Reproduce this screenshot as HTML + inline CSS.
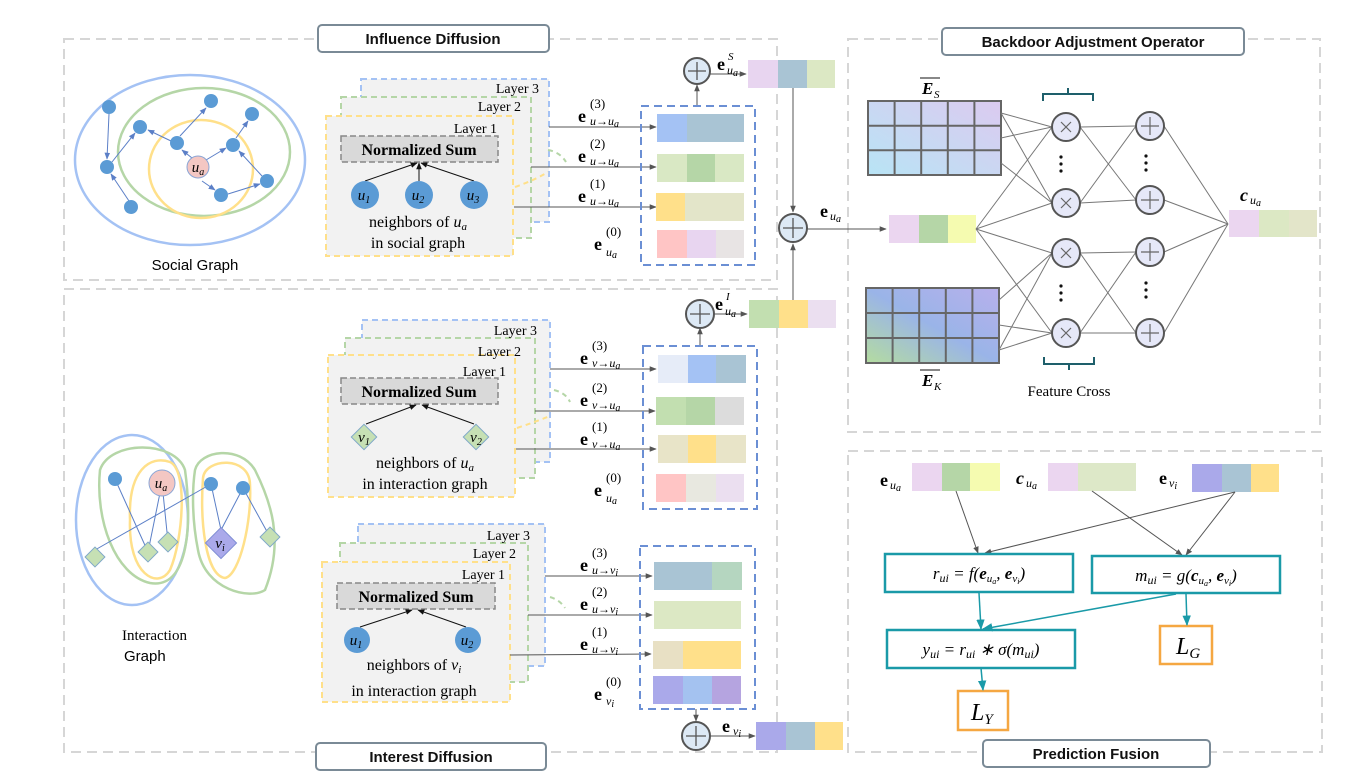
<!DOCTYPE html>
<html><head><meta charset="utf-8"><style>
html,body{margin:0;padding:0;background:#fff}
svg{display:block}
.t{font-family:"Liberation Serif",serif}
.s{font-family:"Liberation Sans",sans-serif}
.m{font-family:"Liberation Serif",serif;font-style:italic}
.b{font-weight:bold}
</style></head><body>
<svg width="1365" height="779" viewBox="0 0 1365 779" xmlns="http://www.w3.org/2000/svg">
<defs>
<marker id="a" viewBox="0 0 10 10" refX="9" refY="5" markerWidth="7" markerHeight="7" orient="auto"><path d="M0,1L10,5L0,9z" fill="#555"/></marker>
<marker id="at" viewBox="0 0 10 10" refX="9" refY="5" markerWidth="7" markerHeight="7" orient="auto"><path d="M0,1L10,5L0,9z" fill="#1a9aa8"/></marker>
<marker id="ab" viewBox="0 0 10 10" refX="9" refY="5" markerWidth="7" markerHeight="7" orient="auto"><path d="M0,1L10,5L0,9z" fill="#5b7fc7"/></marker>
<marker id="ak" viewBox="0 0 10 10" refX="9" refY="5" markerWidth="7" markerHeight="7" orient="auto"><path d="M0,1L10,5L0,9z" fill="#111"/></marker>
<linearGradient id="gs" x1="0" y1="1" x2="1" y2="0"><stop offset="0" stop-color="#b8e4f5"/><stop offset="1" stop-color="#dccaf0"/></linearGradient>
<linearGradient id="gk" x1="0" y1="1" x2="1" y2="0"><stop offset="0" stop-color="#b4dca0"/><stop offset="0.5" stop-color="#9ab4e8"/><stop offset="1" stop-color="#b8b0ec"/></linearGradient>
</defs>

<g fill="none" stroke="#d6d6d6" stroke-width="2" stroke-dasharray="10,6">
<rect x="64" y="39" width="713" height="241"/>
<rect x="64" y="289" width="713" height="463"/>
<rect x="848" y="39" width="472" height="393"/>
<rect x="848" y="451" width="474" height="301"/>
</g>
<g fill="#fff" stroke="#7a8a96" stroke-width="2">
<rect x="318" y="25" width="231" height="27" rx="4"/>
<rect x="316" y="743" width="230" height="27" rx="4"/>
<rect x="942" y="28" width="302" height="27" rx="4"/>
<rect x="983" y="740" width="227" height="27" rx="4"/>
</g>
<g class="s b" font-size="15" text-anchor="middle" fill="#111">
<text x="433" y="44">Influence Diffusion</text>
<text x="431" y="762">Interest Diffusion</text>
<text x="1093" y="47">Backdoor Adjustment Operator</text>
<text x="1096" y="759">Prediction Fusion</text>
</g>

<!-- Social graph -->
<ellipse cx="190" cy="160" rx="115" ry="85" fill="none" stroke="#a4c2f4" stroke-width="2.5"/>
<ellipse cx="204" cy="152" rx="86" ry="64" fill="none" stroke="#b5d6a7" stroke-width="2.5"/>
<ellipse cx="201" cy="169" rx="52" ry="49" fill="none" stroke="#ffe08a" stroke-width="2.5"/>
<g stroke="#5b7fc7" stroke-width="1" marker-end="url(#ab)">
<line x1="109" y1="114" x2="107" y2="159"/>
<line x1="112" y1="162" x2="135" y2="133"/>
<line x1="129" y1="201" x2="111" y2="174"/>
<line x1="171" y1="141" x2="148" y2="130"/>
<line x1="180" y1="136" x2="206" y2="108"/>
<line x1="192" y1="158" x2="182" y2="150"/>
<line x1="206" y1="160" x2="226" y2="148"/>
<line x1="236" y1="138" x2="248" y2="121"/>
<line x1="262" y1="176" x2="239" y2="151"/>
<line x1="202" y1="181" x2="215" y2="190"/>
<line x1="228" y1="194" x2="260" y2="184"/>
</g>
<g fill="#5b9bd5">
<circle cx="109" cy="107" r="7"/><circle cx="140" cy="127" r="7"/><circle cx="211" cy="101" r="7"/>
<circle cx="252" cy="114" r="7"/><circle cx="177" cy="143" r="7"/><circle cx="233" cy="145" r="7"/>
<circle cx="107" cy="167" r="7"/><circle cx="267" cy="181" r="7"/><circle cx="221" cy="195" r="7"/><circle cx="131" cy="207" r="7"/>
</g>
<circle cx="198" cy="167" r="11" fill="#f4c7c3" stroke="#8aa6d6"/>
<text x="198" y="172" class="m" font-size="15" text-anchor="middle">u<tspan font-size="10" dy="3">a</tspan></text>
<text x="195" y="270" class="s" font-size="15" text-anchor="middle">Social Graph</text>

<!-- Social layers -->
<rect x="361" y="79" width="188" height="143" fill="#f2f2f2" stroke="#a4c2f4" stroke-width="2" stroke-dasharray="6,4"/>
<rect x="341" y="97" width="190" height="141" fill="#f2f2f2" stroke="#b5d6a7" stroke-width="2" stroke-dasharray="6,4"/>
<rect x="326" y="116" width="187" height="140" fill="#f2f2f2" stroke="#ffe08a" stroke-width="2" stroke-dasharray="6,4"/>
<g class="t" font-size="14" text-anchor="end"><text x="539" y="93">Layer 3</text><text x="521" y="111">Layer 2</text><text x="497" y="133">Layer 1</text></g>
<rect x="341" y="136" width="157" height="26" fill="#d9d9d9" stroke="#888" stroke-width="1.5" stroke-dasharray="6,3"/>
<text x="419" y="155" class="t b" font-size="16" text-anchor="middle">Normalized Sum</text>
<g stroke="#111" stroke-width="1" marker-end="url(#ak)"><line x1="365" y1="181" x2="417" y2="163"/><line x1="419" y1="181" x2="419" y2="163"/><line x1="474" y1="181" x2="421" y2="163"/></g>
<g fill="#5b9bd5"><circle cx="365" cy="195" r="14"/><circle cx="419" cy="195" r="14"/><circle cx="474" cy="195" r="14"/></g>
<g class="m" font-size="15" text-anchor="middle"><text x="364" y="200">u<tspan font-size="10" dy="3">1</tspan></text><text x="418" y="200">u<tspan font-size="10" dy="3">2</tspan></text><text x="473" y="200">u<tspan font-size="10" dy="3">3</tspan></text></g>
<text x="418" y="227" class="t" font-size="16" text-anchor="middle">neighbors of <tspan font-style="italic">u</tspan><tspan font-size="11" font-style="italic" dy="3">a</tspan></text>
<text x="418" y="248" class="t" font-size="16" text-anchor="middle">in social graph</text>
<path d="M548,150 Q560,152 566,162" fill="none" stroke="#b5d6a7" stroke-width="2" stroke-dasharray="5,4"/>
<path d="M515,187 Q535,180 548,172" fill="none" stroke="#ffe08a" stroke-width="2" stroke-dasharray="5,4"/>

<!-- social column -->
<g stroke="#555" stroke-width="1" marker-end="url(#a)">
<line x1="549" y1="127" x2="656" y2="127"/><line x1="531" y1="167" x2="656" y2="167"/><line x1="514" y1="207" x2="656" y2="207"/>
</g>
<g class="t b" font-size="18"><text x="578" y="122">e</text><text x="578" y="162">e</text><text x="578" y="202">e</text><text x="594" y="250">e</text></g>
<g class="t" font-size="13"><text x="590" y="108">(3)</text><text x="590" y="148">(2)</text><text x="590" y="188">(1)</text><text x="606" y="236">(0)</text></g>
<g class="m" font-size="12"><text x="590" y="125">u→u<tspan font-size="10" dy="2">a</tspan></text><text x="590" y="165">u→u<tspan font-size="10" dy="2">a</tspan></text><text x="590" y="205">u→u<tspan font-size="10" dy="2">a</tspan></text><text x="606" y="256">u<tspan font-size="10" dy="2">a</tspan></text></g>
<rect x="641" y="106" width="114" height="159" fill="none" stroke="#6b8fd4" stroke-width="2" stroke-dasharray="8,5"/>
<rect x="657" y="114" width="30" height="28" fill="#a4c2f4"/><rect x="687" y="114" width="57" height="28" fill="#a9c4d4"/>
<rect x="657" y="154" width="30" height="28" fill="#d9e8c4"/><rect x="687" y="154" width="28" height="28" fill="#b5d6a7"/><rect x="715" y="154" width="29" height="28" fill="#d9e8c4"/>
<rect x="656" y="193" width="29" height="28" fill="#ffe08a"/><rect x="685" y="193" width="59" height="28" fill="#e3e5c9"/>
<rect x="657" y="230" width="30" height="28" fill="#ffc5c5"/><rect x="687" y="230" width="29" height="28" fill="#e8d5f0"/><rect x="716" y="230" width="28" height="28" fill="#e8e4e4"/>
<line x1="697" y1="105" x2="697" y2="85" stroke="#555" marker-end="url(#a)"/>
<circle cx="697" cy="71" r="13" fill="#dde9f5" stroke="#555" stroke-width="2"/>
<path d="M688,71h18M697,62v18" stroke="#555" stroke-width="1.3"/>
<line x1="710" y1="74" x2="746" y2="74" stroke="#555" marker-end="url(#a)"/>
<text x="717" y="70" class="t b" font-size="18">e</text><text x="728" y="60" class="m" font-size="11">S</text><text x="727" y="74" class="m" font-size="12">u<tspan font-size="10" dy="2">a</tspan></text>
<rect x="748" y="60" width="30" height="28" fill="#e8d5f0"/><rect x="778" y="60" width="29" height="28" fill="#a9c4d4"/><rect x="807" y="60" width="28" height="28" fill="#dce8c4"/>

<!-- center plus -->
<line x1="793" y1="88" x2="793" y2="212" stroke="#555" marker-end="url(#a)"/>
<line x1="793" y1="328" x2="793" y2="244" stroke="#555" marker-end="url(#a)"/>
<circle cx="793" cy="228" r="14" fill="#dde9f5" stroke="#555" stroke-width="2"/>
<path d="M783,228h20M793,218v20" stroke="#555" stroke-width="1.3"/>
<line x1="807" y1="229" x2="886" y2="229" stroke="#555" marker-end="url(#a)"/>
<text x="820" y="217" class="t b" font-size="18">e</text><text x="830" y="220" class="m" font-size="12">u<tspan font-size="10" dy="2">a</tspan></text>

<!-- Interaction graph -->
<ellipse cx="132" cy="520" rx="56" ry="85" fill="none" stroke="#a4c2f4" stroke-width="2.5"/>
<path d="M100,470 C110,440 175,440 185,470 C192,520 190,590 150,583 C115,575 95,520 100,470z" fill="none" stroke="#b5d6a7" stroke-width="2.5"/>
<path d="M130,520 C128,470 150,455 170,462 C188,470 183,540 170,570 C158,590 128,575 130,520z" fill="none" stroke="#ffe08a" stroke-width="2.5"/>
<path d="M195,470 C200,450 240,445 255,470 C270,500 285,540 265,590 C250,600 205,590 198,550 C192,520 192,490 195,470z" fill="none" stroke="#b5d6a7" stroke-width="2.5"/>
<path d="M203,478 C205,458 250,455 250,485 C252,520 240,575 225,578 C205,575 200,520 203,478z" fill="none" stroke="#ffe08a" stroke-width="2.5"/>
<g stroke="#5b7fc7" stroke-width="1">
<line x1="115" y1="479" x2="148" y2="552"/><line x1="162" y1="483" x2="148" y2="552"/><line x1="162" y1="483" x2="168" y2="542"/>
<line x1="211" y1="484" x2="95" y2="550"/><line x1="211" y1="484" x2="221" y2="530"/><line x1="243" y1="488" x2="221" y2="530"/><line x1="243" y1="488" x2="270" y2="537"/>
</g>
<g fill="#5b9bd5"><circle cx="115" cy="479" r="7"/><circle cx="211" cy="484" r="7"/><circle cx="243" cy="488" r="7"/></g>
<circle cx="162" cy="483" r="13" fill="#f4c7c3" stroke="#8aa6d6"/>
<text x="161" y="488" class="m" font-size="15" text-anchor="middle">u<tspan font-size="10" dy="3">a</tspan></text>
<g fill="#c6e0b4" stroke="#7fa8c8" stroke-width="1">
<rect x="-7" y="-7" width="14" height="14" transform="translate(95,557) rotate(45)"/>
<rect x="-7" y="-7" width="14" height="14" transform="translate(148,552) rotate(45)"/>
<rect x="-7" y="-7" width="14" height="14" transform="translate(168,542) rotate(45)"/>
<rect x="-7" y="-7" width="14" height="14" transform="translate(270,537) rotate(45)"/>
</g>
<rect x="-11" y="-11" width="22" height="22" transform="translate(221,543) rotate(45)" fill="#aaa9ea" stroke="#7f8fd4"/>
<text x="220" y="548" class="m" font-size="15" text-anchor="middle">v<tspan font-size="10" dy="3">i</tspan></text>
<text x="122" y="640" class="t" font-size="15">Interaction</text>
<text x="124" y="661" class="s" font-size="15">Graph</text>

<!-- Interest layers top -->
<rect x="362" y="320" width="188" height="142" fill="#f2f2f2" stroke="#a4c2f4" stroke-width="2" stroke-dasharray="6,4"/>
<rect x="345" y="338" width="190" height="140" fill="#f2f2f2" stroke="#b5d6a7" stroke-width="2" stroke-dasharray="6,4"/>
<rect x="328" y="355" width="187" height="142" fill="#f2f2f2" stroke="#ffe08a" stroke-width="2" stroke-dasharray="6,4"/>
<g class="t" font-size="14" text-anchor="end"><text x="537" y="335">Layer 3</text><text x="521" y="356">Layer 2</text><text x="506" y="376">Layer 1</text></g>
<rect x="341" y="378" width="157" height="26" fill="#d9d9d9" stroke="#888" stroke-width="1.5" stroke-dasharray="6,3"/>
<text x="419" y="397" class="t b" font-size="16" text-anchor="middle">Normalized Sum</text>
<g stroke="#111" stroke-width="1" marker-end="url(#ak)"><line x1="366" y1="424" x2="416" y2="405"/><line x1="474" y1="424" x2="422" y2="405"/></g>
<g fill="#c6e0b4" stroke="#7fa8c8"><rect x="-9" y="-9" width="18" height="18" transform="translate(364,437) rotate(45)"/><rect x="-9" y="-9" width="18" height="18" transform="translate(476,437) rotate(45)"/></g>
<g class="m" font-size="15" text-anchor="middle"><text x="364" y="442">v<tspan font-size="10" dy="3">1</tspan></text><text x="476" y="442">v<tspan font-size="10" dy="3">2</tspan></text></g>
<text x="425" y="468" class="t" font-size="16" text-anchor="middle">neighbors of <tspan font-style="italic">u</tspan><tspan font-size="11" font-style="italic" dy="3">a</tspan></text>
<text x="425" y="489" class="t" font-size="16" text-anchor="middle">in interaction graph</text>
<path d="M554,390 Q566,393 570,402" fill="none" stroke="#b5d6a7" stroke-width="2" stroke-dasharray="5,4"/>
<path d="M517,428 Q535,422 550,416" fill="none" stroke="#ffe08a" stroke-width="2" stroke-dasharray="5,4"/>

<g stroke="#555" stroke-width="1" marker-end="url(#a)">
<line x1="550" y1="369" x2="656" y2="369"/><line x1="535" y1="411" x2="655" y2="411"/><line x1="516" y1="449" x2="656" y2="449"/>
</g>
<g class="t b" font-size="18"><text x="580" y="364">e</text><text x="580" y="406">e</text><text x="580" y="445">e</text><text x="594" y="496">e</text></g>
<g class="t" font-size="13"><text x="592" y="350">(3)</text><text x="592" y="392">(2)</text><text x="592" y="431">(1)</text><text x="606" y="482">(0)</text></g>
<g class="m" font-size="12"><text x="592" y="367">v→u<tspan font-size="10" dy="2">a</tspan></text><text x="592" y="409">v→u<tspan font-size="10" dy="2">a</tspan></text><text x="592" y="448">v→u<tspan font-size="10" dy="2">a</tspan></text><text x="606" y="502">u<tspan font-size="10" dy="2">a</tspan></text></g>
<rect x="643" y="346" width="114" height="163" fill="none" stroke="#6b8fd4" stroke-width="2" stroke-dasharray="8,5"/>
<rect x="658" y="355" width="30" height="28" fill="#e6ecf8"/><rect x="688" y="355" width="28" height="28" fill="#a4c2f4"/><rect x="716" y="355" width="30" height="28" fill="#a9c4d4"/>
<rect x="656" y="397" width="30" height="28" fill="#c2dfb0"/><rect x="686" y="397" width="29" height="28" fill="#b5d6a7"/><rect x="715" y="397" width="29" height="28" fill="#dcdcdc"/>
<rect x="658" y="435" width="30" height="28" fill="#e8e4c8"/><rect x="688" y="435" width="28" height="28" fill="#ffe08a"/><rect x="716" y="435" width="30" height="28" fill="#e8e4c8"/>
<rect x="656" y="474" width="30" height="28" fill="#ffc5c5"/><rect x="686" y="474" width="30" height="28" fill="#e8e8e0"/><rect x="716" y="474" width="28" height="28" fill="#ebdff0"/>
<line x1="700" y1="345" x2="700" y2="328" stroke="#555" marker-end="url(#a)"/>
<circle cx="700" cy="314" r="14" fill="#dde9f5" stroke="#555" stroke-width="2"/>
<path d="M690,314h20M700,304v20" stroke="#555" stroke-width="1.3"/>
<line x1="714" y1="314" x2="747" y2="314" stroke="#555" marker-end="url(#a)"/>
<text x="715" y="310" class="t b" font-size="18">e</text><text x="726" y="300" class="m" font-size="11">I</text><text x="725" y="315" class="m" font-size="12">u<tspan font-size="10" dy="2">a</tspan></text>
<rect x="749" y="300" width="30" height="28" fill="#c2dfb0"/><rect x="779" y="300" width="29" height="28" fill="#ffe08a"/><rect x="808" y="300" width="28" height="28" fill="#ebdff0"/>

<!-- Interest layers bottom -->
<rect x="358" y="524" width="187" height="142" fill="#f2f2f2" stroke="#a4c2f4" stroke-width="2" stroke-dasharray="6,4"/>
<rect x="340" y="543" width="188" height="139" fill="#f2f2f2" stroke="#b5d6a7" stroke-width="2" stroke-dasharray="6,4"/>
<rect x="322" y="562" width="188" height="140" fill="#f2f2f2" stroke="#ffe08a" stroke-width="2" stroke-dasharray="6,4"/>
<g class="t" font-size="14" text-anchor="end"><text x="530" y="540">Layer 3</text><text x="516" y="558">Layer 2</text><text x="505" y="579">Layer 1</text></g>
<rect x="337" y="583" width="158" height="26" fill="#d9d9d9" stroke="#888" stroke-width="1.5" stroke-dasharray="6,3"/>
<text x="416" y="602" class="t b" font-size="16" text-anchor="middle">Normalized Sum</text>
<g stroke="#111" stroke-width="1" marker-end="url(#ak)"><line x1="360" y1="627" x2="412" y2="610"/><line x1="466" y1="627" x2="418" y2="610"/></g>
<g fill="#5b9bd5"><circle cx="357" cy="640" r="13"/><circle cx="468" cy="640" r="13"/></g>
<g class="m" font-size="15" text-anchor="middle"><text x="356" y="645">u<tspan font-size="10" dy="3">1</tspan></text><text x="467" y="645">u<tspan font-size="10" dy="3">2</tspan></text></g>
<text x="414" y="670" class="t" font-size="16" text-anchor="middle">neighbors of <tspan font-style="italic">v</tspan><tspan font-size="11" font-style="italic" dy="3">i</tspan></text>
<text x="414" y="696" class="t" font-size="16" text-anchor="middle">in interaction graph</text>
<path d="M550,597 Q560,600 565,608" fill="none" stroke="#b5d6a7" stroke-width="2" stroke-dasharray="5,4"/>

<g stroke="#555" stroke-width="1" marker-end="url(#a)">
<line x1="545" y1="576" x2="652" y2="576"/><line x1="528" y1="615" x2="652" y2="615"/><line x1="510" y1="655" x2="651" y2="654"/>
</g>
<g class="t b" font-size="18"><text x="580" y="571">e</text><text x="580" y="610">e</text><text x="580" y="650">e</text><text x="594" y="700">e</text></g>
<g class="t" font-size="13"><text x="592" y="557">(3)</text><text x="592" y="596">(2)</text><text x="592" y="636">(1)</text><text x="606" y="686">(0)</text></g>
<g class="m" font-size="12"><text x="592" y="574">u→v<tspan font-size="10" dy="2">i</tspan></text><text x="592" y="613">u→v<tspan font-size="10" dy="2">i</tspan></text><text x="592" y="653">u→v<tspan font-size="10" dy="2">i</tspan></text><text x="606" y="705">v<tspan font-size="10" dy="2">i</tspan></text></g>
<rect x="640" y="546" width="115" height="163" fill="none" stroke="#6b8fd4" stroke-width="2" stroke-dasharray="8,5"/>
<rect x="654" y="562" width="58" height="28" fill="#a9c4d4"/><rect x="712" y="562" width="30" height="28" fill="#b5d6c0"/>
<rect x="654" y="601" width="87" height="28" fill="#dce8c4"/>
<rect x="653" y="641" width="30" height="28" fill="#e8e0c4"/><rect x="683" y="641" width="58" height="28" fill="#ffe08a"/>
<rect x="653" y="676" width="30" height="28" fill="#aaa9ea"/><rect x="683" y="676" width="29" height="28" fill="#a4c2f0"/><rect x="712" y="676" width="29" height="28" fill="#b5a4e0"/>
<line x1="696" y1="709" x2="696" y2="721" stroke="#555" marker-end="url(#a)"/>
<circle cx="696" cy="736" r="14" fill="#dde9f5" stroke="#555" stroke-width="2"/>
<path d="M686,736h20M696,726v20" stroke="#555" stroke-width="1.3"/>
<line x1="710" y1="736" x2="755" y2="736" stroke="#555" marker-end="url(#a)"/>
<text x="722" y="732" class="t b" font-size="18">e</text><text x="733" y="735" class="m" font-size="12">v<tspan font-size="10" dy="2">i</tspan></text>
<rect x="756" y="722" width="30" height="28" fill="#aaa9ea"/><rect x="786" y="722" width="29" height="28" fill="#a9c4d4"/><rect x="815" y="722" width="28" height="28" fill="#ffe08a"/>

<!-- Backdoor -->
<rect x="889" y="215" width="30" height="28" fill="#ebd6f0"/><rect x="919" y="215" width="29" height="28" fill="#b5d6a7"/><rect x="948" y="215" width="28" height="28" fill="#f5fbb0"/>
<g stroke="#666" stroke-width="2">
<rect x="868" y="101" width="133" height="74" fill="url(#gs)"/>
<rect x="866" y="288" width="133" height="75" fill="url(#gk)"/>
<path d="M894.6,101v74M921.2,101v74M947.8,101v74M974.4,101v74M868,125.7h133M868,150.3h133" fill="none"/>
<path d="M892.6,288v75M919.2,288v75M945.8,288v75M972.4,288v75M866,313h133M866,338h133" fill="none"/>
</g>
<text x="922" y="94" class="t b" font-style="italic" font-size="17">E</text><text x="934" y="98" class="m" font-size="11">S</text><line x1="920" y1="78" x2="940" y2="78" stroke="#111"/>
<text x="922" y="386" class="t b" font-style="italic" font-size="17">E</text><text x="934" y="390" class="m" font-size="11">K</text><line x1="920" y1="370" x2="940" y2="370" stroke="#111"/>
<g stroke="#777" stroke-width="1">
<line x1="1001" y1="113" x2="1052" y2="127"/><line x1="1001" y1="138" x2="1052" y2="127"/><line x1="1001" y1="113" x2="1052" y2="203"/><line x1="1001" y1="163" x2="1052" y2="203"/>
<line x1="976" y1="229" x2="1052" y2="127"/><line x1="976" y1="229" x2="1052" y2="203"/><line x1="976" y1="229" x2="1052" y2="253"/><line x1="976" y1="229" x2="1052" y2="333"/>
<line x1="999" y1="300" x2="1052" y2="253"/><line x1="999" y1="350" x2="1052" y2="253"/><line x1="999" y1="325" x2="1052" y2="333"/><line x1="999" y1="350" x2="1052" y2="333"/>
<line x1="1080" y1="127" x2="1136" y2="126"/><line x1="1080" y1="127" x2="1136" y2="200"/><line x1="1080" y1="203" x2="1136" y2="200"/><line x1="1080" y1="203" x2="1136" y2="126"/>
<line x1="1080" y1="253" x2="1136" y2="252"/><line x1="1080" y1="253" x2="1136" y2="333"/><line x1="1080" y1="333" x2="1136" y2="333"/><line x1="1080" y1="333" x2="1136" y2="252"/>
<line x1="1164" y1="126" x2="1228" y2="224"/><line x1="1164" y1="200" x2="1228" y2="224"/><line x1="1164" y1="252" x2="1228" y2="224"/><line x1="1164" y1="333" x2="1228" y2="224"/>
</g>
<g fill="#e6e8f8" stroke="#555" stroke-width="2">
<circle cx="1066" cy="127" r="14"/><circle cx="1066" cy="203" r="14"/><circle cx="1066" cy="253" r="14"/><circle cx="1066" cy="333" r="14"/>
<circle cx="1150" cy="126" r="14"/><circle cx="1150" cy="200" r="14"/><circle cx="1150" cy="252" r="14"/><circle cx="1150" cy="333" r="14"/>
</g>
<g stroke="#666" stroke-width="1.2">
<path d="M1061,122l10,10M1071,122l-10,10M1061,198l10,10M1071,198l-10,10M1061,248l10,10M1071,248l-10,10M1061,328l10,10M1071,328l-10,10"/>
<path d="M1141,126h18M1150,117v18M1141,200h18M1150,191v18M1141,252h18M1150,243v18M1141,333h18M1150,324v18"/>
</g>
<g fill="#111"><circle cx="1061" cy="157" r="1.6"/><circle cx="1061" cy="164" r="1.6"/><circle cx="1061" cy="171" r="1.6"/>
<circle cx="1146" cy="156" r="1.6"/><circle cx="1146" cy="163" r="1.6"/><circle cx="1146" cy="170" r="1.6"/>
<circle cx="1061" cy="286" r="1.6"/><circle cx="1061" cy="293" r="1.6"/><circle cx="1061" cy="300" r="1.6"/>
<circle cx="1146" cy="283" r="1.6"/><circle cx="1146" cy="290" r="1.6"/><circle cx="1146" cy="297" r="1.6"/></g>
<path d="M1043,101v-7h50v7M1068,94v-6" fill="none" stroke="#1e5f6b" stroke-width="2"/>
<path d="M1044,357v7h50v-7M1069,364v6" fill="none" stroke="#1e5f6b" stroke-width="2"/>
<text x="1069" y="396" class="t" font-size="15" text-anchor="middle">Feature Cross</text>
<rect x="1229" y="210" width="30" height="27" fill="#ebd6f0"/><rect x="1259" y="210" width="30" height="27" fill="#dce8c4"/><rect x="1289" y="210" width="28" height="27" fill="#e3e5c9"/>
<text x="1240" y="201" class="t b" font-style="italic" font-size="18">c</text><text x="1250" y="204" class="m" font-size="12">u<tspan font-size="10" dy="2">a</tspan></text>

<!-- Prediction -->
<text x="880" y="486" class="t b" font-size="18">e</text><text x="890" y="489" class="m" font-size="12">u<tspan font-size="10" dy="2">a</tspan></text>
<rect x="912" y="463" width="30" height="28" fill="#ebd6f0"/><rect x="942" y="463" width="28" height="28" fill="#b5d6a7"/><rect x="970" y="463" width="30" height="28" fill="#f5fbb0"/>
<text x="1016" y="484" class="t b" font-style="italic" font-size="18">c</text><text x="1026" y="487" class="m" font-size="12">u<tspan font-size="10" dy="2">a</tspan></text>
<rect x="1048" y="463" width="30" height="28" fill="#ebd6f0"/><rect x="1078" y="463" width="58" height="28" fill="#dde8c8"/>
<text x="1159" y="484" class="t b" font-size="18">e</text><text x="1169" y="487" class="m" font-size="12">v<tspan font-size="10" dy="2">i</tspan></text>
<rect x="1192" y="464" width="30" height="28" fill="#aaa9ea"/><rect x="1222" y="464" width="29" height="28" fill="#a9c4d4"/><rect x="1251" y="464" width="28" height="28" fill="#ffe08a"/>
<g stroke="#555" stroke-width="1" marker-end="url(#a)">
<line x1="956" y1="491" x2="978" y2="553"/><line x1="1235" y1="492" x2="985" y2="553"/>
<line x1="1092" y1="491" x2="1182" y2="555"/><line x1="1235" y1="492" x2="1186" y2="555"/>
</g>
<g fill="#fff" stroke="#1a9aa8" stroke-width="2.5">
<rect x="885" y="554" width="188" height="38"/><rect x="1092" y="556" width="188" height="37"/><rect x="887" y="630" width="188" height="38"/>
</g>
<g fill="#fff" stroke="#f5a742" stroke-width="2.5"><rect x="1160" y="626" width="52" height="38"/><rect x="958" y="691" width="50" height="39"/></g>
<g stroke="#1a9aa8" stroke-width="1.5" marker-end="url(#at)">
<line x1="979" y1="593" x2="981" y2="629"/><line x1="1176" y1="594" x2="983" y2="629"/><line x1="1186" y1="594" x2="1187" y2="625"/><line x1="981" y1="668" x2="983" y2="690"/>
</g>
<g class="m" font-size="17" text-anchor="middle">
<text x="979" y="579">r<tspan font-size="12" dy="3">ui</tspan><tspan dy="-3"> = f(</tspan><tspan font-weight="bold">e</tspan><tspan font-size="11" dy="3">u</tspan><tspan font-size="8" dy="2">a</tspan><tspan dy="-5">, </tspan><tspan font-weight="bold">e</tspan><tspan font-size="11" dy="3">v</tspan><tspan font-size="8" dy="2">i</tspan><tspan dy="-5">)</tspan></text>
<text x="1186" y="581">m<tspan font-size="12" dy="3">ui</tspan><tspan dy="-3"> = g(</tspan><tspan font-weight="bold">c</tspan><tspan font-size="11" dy="3">u</tspan><tspan font-size="8" dy="2">a</tspan><tspan dy="-5">, </tspan><tspan font-weight="bold">e</tspan><tspan font-size="11" dy="3">v</tspan><tspan font-size="8" dy="2">i</tspan><tspan dy="-5">)</tspan></text>
<text x="981" y="655">y<tspan font-size="12" dy="3">ui</tspan><tspan dy="-3"> = r</tspan><tspan font-size="12" dy="3">ui</tspan><tspan dy="-3"> ∗ σ(m</tspan><tspan font-size="12" dy="3">ui</tspan><tspan dy="-3">)</tspan></text>
</g>
<text x="1176" y="654" class="m" font-size="24">L<tspan font-size="15" dy="4">G</tspan></text>
<text x="971" y="720" class="m" font-size="24">L<tspan font-size="15" dy="4">Y</tspan></text>
</svg>
</body></html>
